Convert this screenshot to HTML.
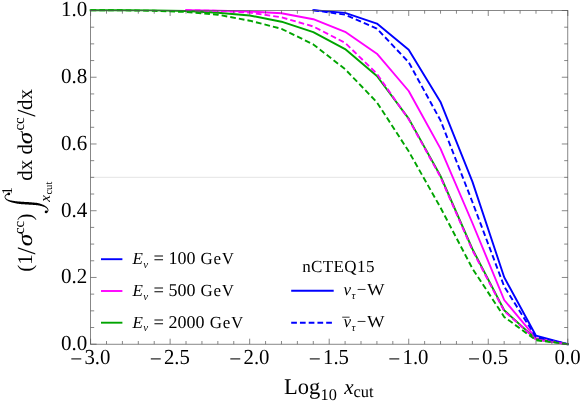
<!DOCTYPE html>
<html><head><meta charset="utf-8"><title>plot</title>
<style>html,body{margin:0;padding:0;background:#fff;}svg{display:block;will-change:transform;}text{font-family:"Liberation Serif",serif;fill:#000;text-rendering:geometricPrecision;}</style></head><body>
<svg width="581" height="402" viewBox="0 0 581 402">
<rect width="581" height="402" fill="#fff"/>
<line x1="90.6" x2="567.8" y1="177.3" y2="177.3" stroke="#e4e4e4" stroke-width="1"/>
<polyline points="313.3,10.2 345.1,12.9 376.9,23.6 408.7,49.8 440.5,101.9 472.4,181.6 504.2,277.3 536.0,335.7 567.8,344.2" fill="none" stroke="#0000ff" stroke-width="1.9" stroke-linejoin="round" stroke-linecap="square"/>
<polyline points="186.0,10.2 217.8,10.6 249.7,11.5 281.5,13.2 313.3,19.2 345.1,31.8 376.9,53.7 408.7,91.0 440.5,148.6 472.4,223.0 504.2,300.0 536.0,338.2 567.8,344.2" fill="none" stroke="#ff00ff" stroke-width="1.9" stroke-linejoin="round" stroke-linecap="square"/>
<polyline points="90.6,10.2 122.4,10.2 154.2,10.4 186.0,11.0 217.8,12.8 249.7,15.5 281.5,21.7 313.3,32.2 345.1,49.1 376.9,76.0 408.7,118.6 440.5,176.0 472.4,249.0 504.2,310.3 536.0,339.2 567.8,344.2" fill="none" stroke="#00a400" stroke-width="1.9" stroke-linejoin="round" stroke-linecap="square"/>
<polyline points="313.3,10.2 345.1,14.7 376.9,28.6 408.7,62.3 440.5,120.4 472.4,202.0 504.2,286.5 536.0,337.1 567.8,344.2" fill="none" stroke="#0000ff" stroke-width="1.9" stroke-linejoin="round" stroke-dasharray="5.7 3.05"/>
<polyline points="186.0,10.2 217.8,10.9 249.7,12.6 281.5,17.3 313.3,26.5 345.1,42.8 376.9,73.8 408.7,119.3 440.5,177.0 472.4,250.2 504.2,311.0 536.0,339.6 567.8,344.2" fill="none" stroke="#ff00ff" stroke-width="1.9" stroke-linejoin="round" stroke-dasharray="5.7 3.05"/>
<polyline points="90.6,10.2 122.4,10.3 154.2,10.8 186.0,12.0 217.8,14.7 249.7,20.7 281.5,28.8 313.3,44.4 345.1,69.2 376.9,102.3 408.7,151.3 440.5,207.6 472.4,268.5 504.2,316.9 536.0,340.2 567.8,344.2" fill="none" stroke="#00a400" stroke-width="1.9" stroke-linejoin="round" stroke-dasharray="5.7 3.05"/>
<g stroke="#555" stroke-width="0.7" fill="none">
<rect x="90.6" y="10.5" width="477.2" height="333.7"/>
<path d="M90.59 344.2v-5.5M90.59 10.5v5.5M106.50 344.2v-3.2M106.50 10.5v3.2M122.40 344.2v-3.2M122.40 10.5v3.2M138.31 344.2v-3.2M138.31 10.5v3.2M154.22 344.2v-3.2M154.22 10.5v3.2M170.12 344.2v-5.5M170.12 10.5v5.5M186.03 344.2v-3.2M186.03 10.5v3.2M201.94 344.2v-3.2M201.94 10.5v3.2M217.85 344.2v-3.2M217.85 10.5v3.2M233.75 344.2v-3.2M233.75 10.5v3.2M249.66 344.2v-5.5M249.66 10.5v5.5M265.57 344.2v-3.2M265.57 10.5v3.2M281.47 344.2v-3.2M281.47 10.5v3.2M297.38 344.2v-3.2M297.38 10.5v3.2M313.29 344.2v-3.2M313.29 10.5v3.2M329.19 344.2v-5.5M329.19 10.5v5.5M345.10 344.2v-3.2M345.10 10.5v3.2M361.01 344.2v-3.2M361.01 10.5v3.2M376.92 344.2v-3.2M376.92 10.5v3.2M392.82 344.2v-3.2M392.82 10.5v3.2M408.73 344.2v-5.5M408.73 10.5v5.5M424.64 344.2v-3.2M424.64 10.5v3.2M440.54 344.2v-3.2M440.54 10.5v3.2M456.45 344.2v-3.2M456.45 10.5v3.2M472.36 344.2v-3.2M472.36 10.5v3.2M488.26 344.2v-5.5M488.26 10.5v5.5M504.17 344.2v-3.2M504.17 10.5v3.2M520.08 344.2v-3.2M520.08 10.5v3.2M535.99 344.2v-3.2M535.99 10.5v3.2M551.89 344.2v-3.2M551.89 10.5v3.2M567.80 344.2v-5.5M567.80 10.5v5.5M90.59 344.20h6.0M567.80 344.20h-6.0M90.59 327.51h3.6M567.80 327.51h-3.6M90.59 310.83h3.6M567.80 310.83h-3.6M90.59 294.14h3.6M567.80 294.14h-3.6M90.59 277.46h6.0M567.80 277.46h-6.0M90.59 260.77h3.6M567.80 260.77h-3.6M90.59 244.09h3.6M567.80 244.09h-3.6M90.59 227.40h3.6M567.80 227.40h-3.6M90.59 210.72h6.0M567.80 210.72h-6.0M90.59 194.03h3.6M567.80 194.03h-3.6M90.59 177.35h3.6M567.80 177.35h-3.6M90.59 160.66h3.6M567.80 160.66h-3.6M90.59 143.98h6.0M567.80 143.98h-6.0M90.59 127.29h3.6M567.80 127.29h-3.6M90.59 110.61h3.6M567.80 110.61h-3.6M90.59 93.93h3.6M567.80 93.93h-3.6M90.59 77.24h6.0M567.80 77.24h-6.0M90.59 60.55h3.6M567.80 60.55h-3.6M90.59 43.87h3.6M567.80 43.87h-3.6M90.59 27.19h3.6M567.80 27.19h-3.6M90.59 10.50h6.0M567.80 10.50h-6.0"/>
</g>
<text x="87.2" y="350.2" font-size="21.6" text-anchor="end" textLength="26.3" lengthAdjust="spacingAndGlyphs">0.0</text>
<text x="87.2" y="283.4" font-size="21.6" text-anchor="end" textLength="26.3" lengthAdjust="spacingAndGlyphs">0.2</text>
<text x="87.2" y="216.5" font-size="21.6" text-anchor="end" textLength="26.3" lengthAdjust="spacingAndGlyphs">0.4</text>
<text x="87.2" y="149.7" font-size="21.6" text-anchor="end" textLength="26.3" lengthAdjust="spacingAndGlyphs">0.6</text>
<text x="87.2" y="82.8" font-size="21.6" text-anchor="end" textLength="26.3" lengthAdjust="spacingAndGlyphs">0.8</text>
<text x="87.2" y="16.0" font-size="21.6" text-anchor="end" textLength="26.3" lengthAdjust="spacingAndGlyphs">1.0</text>
<text y="363.6" font-size="21.4"><tspan x="70.2" dy="2.2">−</tspan><tspan x="84.4" dy="-2.2" textLength="26.0" lengthAdjust="spacingAndGlyphs">3.0</tspan></text>
<text y="363.6" font-size="21.4"><tspan x="149.7" dy="2.2">−</tspan><tspan x="163.9" dy="-2.2" textLength="26.0" lengthAdjust="spacingAndGlyphs">2.5</tspan></text>
<text y="363.6" font-size="21.4"><tspan x="229.3" dy="2.2">−</tspan><tspan x="243.5" dy="-2.2" textLength="26.0" lengthAdjust="spacingAndGlyphs">2.0</tspan></text>
<text y="363.6" font-size="21.4"><tspan x="308.8" dy="2.2">−</tspan><tspan x="323.0" dy="-2.2" textLength="26.0" lengthAdjust="spacingAndGlyphs">1.5</tspan></text>
<text y="363.6" font-size="21.4"><tspan x="388.3" dy="2.2">−</tspan><tspan x="402.5" dy="-2.2" textLength="26.0" lengthAdjust="spacingAndGlyphs">1.0</tspan></text>
<text y="363.6" font-size="21.4"><tspan x="467.9" dy="2.2">−</tspan><tspan x="482.1" dy="-2.2" textLength="26.0" lengthAdjust="spacingAndGlyphs">0.5</tspan></text>
<text x="554.6" y="363.6" font-size="21.4" textLength="26.0" lengthAdjust="spacingAndGlyphs">0.0</text>
<text font-size="22.5"><tspan x="284.1" y="394.4">Log</tspan><tspan x="320.5" y="400" font-size="16.3">10</tspan><tspan x="344.3" y="394.4" font-size="21" font-style="italic">x</tspan><tspan x="353.6" y="397.2" font-size="16.4">cut</tspan></text>
<line x1="101" x2="122.4" y1="259.2" y2="259.2" stroke="#0000ff" stroke-width="1.9"/>
<text y="264.0" font-size="17"><tspan x="132.6" font-style="italic">E</tspan><tspan x="143.3" dy="3.8" font-style="italic" font-size="11">ν</tspan><tspan x="153.5" dy="-3.8" font-size="18.5">=</tspan><tspan x="168.6" font-size="18">100</tspan><tspan x="200.5" textLength="33.5">GeV</tspan></text>
<line x1="101" x2="122.4" y1="291.0" y2="291.0" stroke="#ff00ff" stroke-width="1.9"/>
<text y="295.8" font-size="17"><tspan x="132.6" font-style="italic">E</tspan><tspan x="143.3" dy="3.8" font-style="italic" font-size="11">ν</tspan><tspan x="153.5" dy="-3.8" font-size="18.5">=</tspan><tspan x="168.6" font-size="18">500</tspan><tspan x="200.5" textLength="33.5">GeV</tspan></text>
<line x1="101" x2="122.4" y1="322.7" y2="322.7" stroke="#00a400" stroke-width="1.9"/>
<text y="327.5" font-size="17"><tspan x="132.6" font-style="italic">E</tspan><tspan x="143.3" dy="3.8" font-style="italic" font-size="11">ν</tspan><tspan x="153.5" dy="-3.8" font-size="18.5">=</tspan><tspan x="168.6" font-size="18">2000</tspan><tspan x="209.8" textLength="33.5">GeV</tspan></text>
<text x="302.2" y="271.7" font-size="17" textLength="72.2">nCTEQ15</text>
<line x1="291.2" x2="333.7" y1="290.7" y2="290.7" stroke="#0000ff" stroke-width="1.9"/>
<line x1="291.2" x2="333.7" y1="322.8" y2="322.8" stroke="#0000ff" stroke-width="1.9" stroke-dasharray="5.7 3.05"/>
<text y="295.4" font-size="17"><tspan x="343.6" font-style="italic">ν</tspan><tspan x="351.4" dy="4.0" font-style="italic" font-size="11">τ</tspan><tspan x="356.8" dy="-4.0">−</tspan><tspan x="366.9" textLength="17.6" lengthAdjust="spacingAndGlyphs">W</tspan></text>
<text y="327.2" font-size="17"><tspan x="343.6" font-style="italic">ν</tspan><tspan x="351.4" dy="4.0" font-style="italic" font-size="11">τ</tspan><tspan x="356.8" dy="-4.0">−</tspan><tspan x="366.9" textLength="17.6" lengthAdjust="spacingAndGlyphs">W</tspan></text>
<line x1="342.2" x2="349.6" y1="317.2" y2="317.2" stroke="#000" stroke-width="0.8"/>
<g transform="translate(32.1,271.0) rotate(-90)">
<text x="-0.70" y="0.00" font-size="21">(</text>
<text x="6.15" y="0.00" font-size="21">1</text>
<text x="16.50" y="2.90" font-size="26">/</text>
<text x="24.75" y="0.00" font-size="22" font-style="italic" textLength="12.5" lengthAdjust="spacingAndGlyphs">σ</text>
<text x="36.90" y="-8.50" font-size="15">cc</text>
<text x="50.60" y="0.00" font-size="21">)</text>
<path d="M78.34 -24.04 L78.26 -24.16 L78.17 -24.33 L78.06 -24.54 L77.93 -24.79 L77.79 -25.05 L77.64 -25.33 L77.48 -25.61 L77.32 -25.88 L77.14 -26.15 L76.96 -26.40 L76.76 -26.62 L76.56 -26.80 L76.37 -26.95 L76.17 -27.09 L75.96 -27.20 L75.75 -27.31 L75.53 -27.39 L75.30 -27.46 L75.06 -27.51 L74.82 -27.54 L74.58 -27.54 L74.33 -27.51 L74.09 -27.45 L73.85 -27.37 L73.61 -27.27 L73.38 -27.15 L73.14 -27.01 L72.90 -26.85 L72.66 -26.67 L72.43 -26.46 L72.19 -26.23 L71.96 -25.98 L71.74 -25.71 L71.52 -25.41 L71.31 -25.09 L71.11 -24.75 L70.90 -24.39 L70.70 -24.01 L70.50 -23.60 L70.31 -23.17 L70.12 -22.72 L69.94 -22.25 L69.77 -21.76 L69.60 -21.26 L69.43 -20.76 L69.28 -20.24 L69.12 -19.72 L68.97 -19.20 L68.84 -18.67 L68.71 -18.12 L68.59 -17.57 L68.48 -17.02 L68.37 -16.45 L68.27 -15.87 L68.17 -15.28 L68.07 -14.67 L67.98 -14.06 L67.88 -13.43 L67.79 -12.78 L67.71 -12.12 L67.64 -11.42 L67.57 -10.70 L67.51 -9.95 L67.46 -9.19 L67.41 -8.41 L67.36 -7.63 L67.31 -6.85 L67.26 -6.07 L67.21 -5.30 L67.16 -4.54 L67.11 -3.81 L67.05 -3.09 L67.01 -2.38 L66.97 -1.67 L66.93 -0.96 L66.89 -0.25 L66.85 0.44 L66.80 1.13 L66.76 1.80 L66.71 2.45 L66.66 3.08 L66.60 3.69 L66.54 4.27 L66.46 4.82 L66.40 5.36 L66.33 5.88 L66.26 6.37 L66.18 6.85 L66.10 7.32 L66.01 7.76 L65.92 8.20 L65.82 8.62 L65.72 9.03 L65.62 9.43 L65.51 9.83 L65.40 10.21 L65.29 10.59 L65.18 10.95 L65.07 11.30 L64.95 11.64 L64.83 11.96 L64.71 12.28 L64.58 12.58 L64.45 12.87 L64.32 13.15 L64.18 13.41 L64.04 13.66 L63.91 13.89 L63.75 14.10 L63.58 14.29 L63.41 14.47 L63.24 14.64 L63.06 14.79 L62.88 14.94 L62.70 15.07 L62.52 15.19 L62.35 15.29 L62.18 15.38 L62.02 15.46 L61.88 15.52 L61.76 15.55 L61.64 15.57 L61.52 15.57 L61.41 15.56 L61.29 15.54 L61.18 15.51 L61.06 15.46 L60.95 15.42 L60.84 15.36 L60.73 15.30 L60.62 15.23 L60.54 15.18 L60.48 15.12 L60.42 15.05 L60.36 14.96 L60.31 14.86 L60.25 14.74 L60.20 14.62 L60.15 14.50 L60.10 14.38 L60.06 14.26 L60.02 14.15 L59.97 14.04 L59.94 13.96 L59.06 14.44 L59.10 14.49 L59.14 14.55 L59.19 14.65 L59.25 14.76 L59.32 14.89 L59.39 15.03 L59.48 15.17 L59.57 15.31 L59.67 15.46 L59.79 15.59 L59.92 15.72 L60.06 15.82 L60.19 15.91 L60.32 15.99 L60.46 16.07 L60.61 16.14 L60.77 16.21 L60.94 16.27 L61.11 16.32 L61.30 16.35 L61.50 16.37 L61.70 16.36 L61.91 16.34 L62.12 16.28 L62.32 16.22 L62.53 16.14 L62.74 16.05 L62.95 15.94 L63.17 15.81 L63.40 15.67 L63.62 15.52 L63.84 15.35 L64.06 15.16 L64.28 14.96 L64.49 14.74 L64.69 14.51 L64.90 14.28 L65.11 14.03 L65.31 13.77 L65.51 13.49 L65.71 13.20 L65.91 12.90 L66.10 12.58 L66.29 12.24 L66.47 11.90 L66.65 11.54 L66.83 11.17 L67.00 10.79 L67.16 10.40 L67.32 10.00 L67.48 9.59 L67.64 9.16 L67.79 8.73 L67.94 8.27 L68.09 7.80 L68.23 7.32 L68.36 6.81 L68.49 6.29 L68.62 5.74 L68.74 5.18 L68.83 4.58 L68.92 3.96 L69.00 3.32 L69.07 2.66 L69.13 1.99 L69.20 1.31 L69.26 0.62 L69.31 -0.08 L69.37 -0.79 L69.43 -1.49 L69.49 -2.20 L69.55 -2.91 L69.60 -3.64 L69.64 -4.39 L69.68 -5.15 L69.72 -5.93 L69.76 -6.71 L69.80 -7.49 L69.85 -8.27 L69.89 -9.03 L69.93 -9.78 L69.98 -10.51 L70.04 -11.21 L70.09 -11.88 L70.14 -12.54 L70.19 -13.17 L70.24 -13.80 L70.29 -14.40 L70.34 -14.99 L70.40 -15.57 L70.46 -16.14 L70.52 -16.69 L70.59 -17.23 L70.66 -17.76 L70.74 -18.28 L70.83 -18.80 L70.91 -19.32 L70.99 -19.83 L71.08 -20.34 L71.18 -20.85 L71.28 -21.34 L71.38 -21.82 L71.49 -22.28 L71.60 -22.72 L71.72 -23.14 L71.84 -23.54 L71.96 -23.91 L72.09 -24.25 L72.24 -24.55 L72.40 -24.84 L72.57 -25.11 L72.74 -25.35 L72.92 -25.58 L73.10 -25.79 L73.28 -25.98 L73.46 -26.15 L73.64 -26.30 L73.82 -26.43 L73.99 -26.54 L74.15 -26.63 L74.31 -26.69 L74.46 -26.72 L74.62 -26.74 L74.78 -26.74 L74.94 -26.72 L75.10 -26.69 L75.27 -26.64 L75.43 -26.57 L75.59 -26.50 L75.75 -26.41 L75.90 -26.30 L76.04 -26.20 L76.16 -26.07 L76.29 -25.89 L76.43 -25.68 L76.57 -25.44 L76.71 -25.18 L76.84 -24.91 L76.97 -24.64 L77.09 -24.38 L77.20 -24.13 L77.30 -23.91 L77.39 -23.71 L77.46 -23.56Z" fill="#000" transform="translate(-0.7,0)"/>
<circle cx="77.1" cy="-23.3" r="1.4" fill="#000"/><circle cx="59.1" cy="14.0" r="1.4" fill="#000"/>
<text x="76.50" y="-20.30" font-size="15">1</text>
<text x="69.20" y="17.70" font-size="15" font-style="italic">x</text>
<text x="76.40" y="19.80" font-size="10.6">cut</text>
<text x="90.20" y="0.00" font-size="21">dx</text>
<text x="116.60" y="0.00" font-size="21">d</text>
<text x="126.85" y="0.00" font-size="22" font-style="italic" textLength="12.5" lengthAdjust="spacingAndGlyphs">σ</text>
<text x="140.40" y="-8.50" font-size="15">cc</text>
<text x="154.20" y="2.90" font-size="26">/</text>
<text x="161.10" y="0.00" font-size="21">dx</text>
</g>
</svg></body></html>
